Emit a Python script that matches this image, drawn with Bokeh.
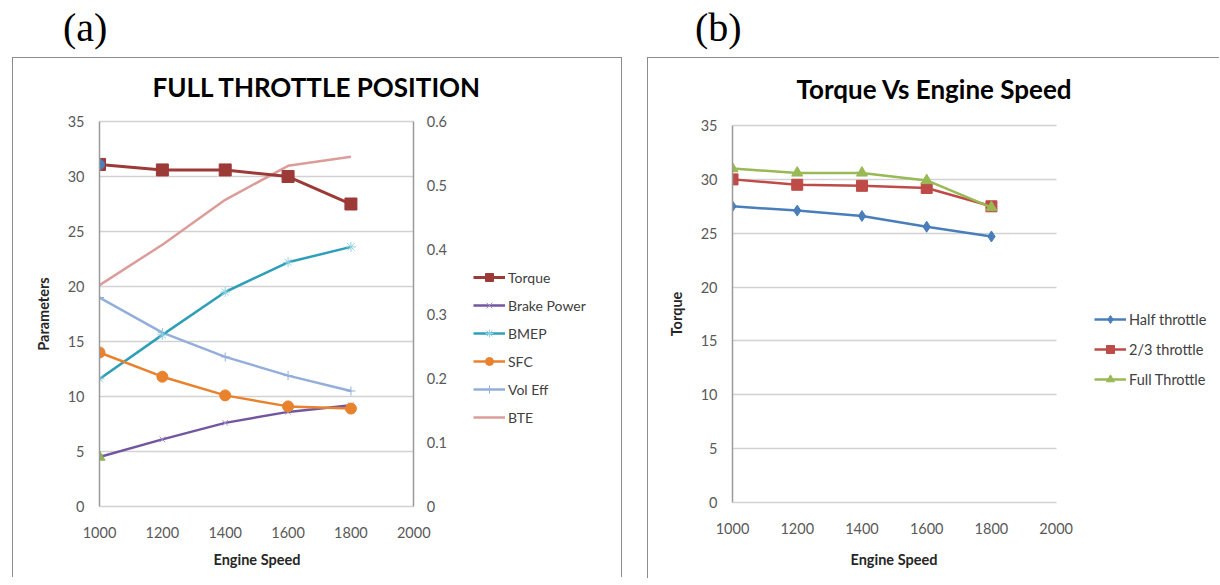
from bokeh.plotting import figure
from bokeh.models import (LinearAxis, Range1d, Legend, LegendItem, Div, Title,
                          FixedTicker, CustomJSTickFormatter)
from bokeh.layouts import row, column
from bokeh.embed import file_html
from bokeh.resources import INLINE

# ---------------- data ----------------
speed = [1000, 1200, 1400, 1600, 1800]
x_ticks = [1000, 1200, 1400, 1600, 1800, 2000]
y_ticks = [0, 5, 10, 15, 20, 25, 30, 35]
r_ticks = [0, 0.1, 0.2, 0.3, 0.4, 0.5, 0.6]

# panel (a) - full throttle position
torque = [31.1, 30.6, 30.6, 30.0, 27.5]
brake_power = [4.5, 6.1, 7.6, 8.6, 9.2]
bmep = [11.6, 15.6, 19.5, 22.2, 23.6]
sfc = [14.0, 11.8, 10.1, 9.1, 8.9]
vol_eff = [19.0, 15.8, 13.6, 11.9, 10.5]
bte = [0.345, 0.408, 0.478, 0.531, 0.545]
stray_x = [1000]
stray_blue_y = [31.1]
stray_green_y = [4.5]

# panel (b) - torque vs engine speed
half_throttle = [27.5, 27.1, 26.6, 25.6, 24.7]
two_third_throttle = [30.0, 29.5, 29.4, 29.2, 27.5]
full_throttle = [31.0, 30.6, 30.6, 29.9, 27.4]

FONT = "Lato"
BORDER = "1px solid #8c8c8c"
X0, X1 = 1000, 2000
Y0, Y1 = 0, 35
R0, R1 = 0, 0.6


def style_axis(ax):
    ax.axis_line_color = "#9a9a9a"
    ax.axis_line_width = 1.5
    ax.major_tick_line_color = None
    ax.minor_tick_line_color = None
    ax.major_tick_out = 0
    ax.major_tick_in = 0
    ax.minor_tick_out = 0
    ax.minor_tick_in = 0
    ax.major_label_text_font = FONT
    ax.major_label_text_font_size = "14.5px"
    ax.major_label_text_color = "#595959"
    ax.axis_label_text_font = FONT
    ax.axis_label_text_font_size = "14.5px"
    ax.axis_label_text_font_style = "bold"
    ax.axis_label_text_color = "#262626"


def base_fig(axis_w, axis_h, pad, fw, left, right, top, bottom, title, t_offset, t_standoff,
             tick_standoff, xlab_offset, xlab_standoff, border_right):
    # frame holds the legend area too; 1000..2000 spans axis_w px, 0..35 spans axis_h px
    x_end = X0 + (X1 - X0) * fw / axis_w
    ypad = (Y1 - Y0) * pad / axis_h
    styles = {"border-left": BORDER, "border-top": BORDER}
    if border_right:
        styles["border-right"] = BORDER
    p = figure(frame_width=fw, frame_height=axis_h + 2 * pad,
               min_border_left=left, min_border_right=right,
               min_border_top=top, min_border_bottom=bottom,
               x_range=Range1d(X0, x_end), y_range=Range1d(Y0 - ypad, Y1 + ypad),
               output_backend="svg", toolbar_location=None, styles=styles)
    p.title.text = title
    p.title.align = "left"
    p.title.offset = t_offset
    p.title.standoff = t_standoff
    p.title.text_font = FONT
    p.title.text_font_size = "26px"
    p.title.text_font_style = "bold"
    p.title.text_color = "#000000"
    p.outline_line_color = None
    p.xgrid.grid_line_color = None
    p.ygrid.grid_line_color = "#d2d2d2"
    p.ygrid.grid_line_width = 1.5
    p.ygrid.cross_bounds = (X0, X1)
    p.xaxis.ticker = FixedTicker(ticks=x_ticks)
    p.xaxis.bounds = (X0, X1)
    p.yaxis.ticker = FixedTicker(ticks=y_ticks)
    p.yaxis.bounds = (Y0, Y1)
    for ax in p.xaxis + p.yaxis:
        style_axis(ax)
    p.xaxis.axis_line_color = None  # the grid line at 0 acts as the axis line
    p.xaxis.major_label_standoff = tick_standoff
    p.yaxis.major_label_standoff = 15
    p.yaxis.axis_label_standoff = 13
    xlab = Title(text="Engine Speed", align="left", offset=xlab_offset, standoff=xlab_standoff,
                 text_font=FONT, text_font_size="14.5px", text_font_style="bold",
                 text_color="#262626")
    p.add_layout(xlab, "below")
    return p


# ---------------- panel (a) ----------------
PAD_A = 9
pa = base_fig(313, 384, PAD_A, 486, 86, 36, 63 - PAD_A, 72 - PAD_A,
              "FULL THROTTLE POSITION", 53, 19, 11, 114, 16, True)
pa.yaxis.axis_label = "Parameters"
rpad = (R1 - R0) * PAD_A / 384
pa.extra_y_ranges = {"r": Range1d(R0 - rpad, R1 + rpad)}
rax = LinearAxis(y_range_name="r", ticker=FixedTicker(ticks=r_ticks), fixed_location=X1,
                 bounds=(R0, R1),
                 formatter=CustomJSTickFormatter(code="return tick == 0 ? '0' : tick.toFixed(1);"))
style_axis(rax)
rax.major_label_standoff = 13
pa.add_layout(rax, "right")

c_torque = "#9b3a37"
c_bp = "#7356a0"
c_bmep = "#2f9fb8"
c_sfc = "#e8822e"
c_vol = "#93aedb"
c_bte = "#dc9c9a"

l_bte = pa.line(speed, bte, y_range_name="r", line_color=c_bte, line_width=2.5)
l_vol = pa.line(speed, vol_eff, line_color=c_vol, line_width=2.5)
m_vol = pa.scatter(speed, vol_eff, marker="cross", size=9, line_color=c_vol, line_width=1)
l_bp = pa.line(speed, brake_power, line_color=c_bp, line_width=2.5)
m_bp = pa.scatter(speed, brake_power, marker="x", size=8, line_color="#a692c6", line_width=1)
l_bmep = pa.line(speed, bmep, line_color=c_bmep, line_width=2.5)
m_bmep = pa.scatter(speed, bmep, marker="asterisk", size=10, line_color="#8fd0e0", line_width=1)
l_sfc = pa.line(speed, sfc, line_color=c_sfc, line_width=2.5)
m_sfc = pa.scatter(speed, sfc, marker="circle", size=11, fill_color=c_sfc, line_color=c_sfc)
l_tq = pa.line(speed, torque, line_color=c_torque, line_width=3)
m_tq = pa.scatter(speed, torque, marker="square", size=12, fill_color=c_torque, line_color=c_torque)
pa.scatter(stray_x, stray_blue_y, marker="circle", size=10, fill_color="#4a7ebb", line_color="#4a7ebb")
pa.scatter(stray_x, stray_green_y, marker="triangle", size=11, fill_color="#8db357", line_color="#8db357")

leg_a = Legend(items=[
    LegendItem(label="Torque", renderers=[l_tq, m_tq]),
    LegendItem(label="Brake Power", renderers=[l_bp, m_bp]),
    LegendItem(label="BMEP", renderers=[l_bmep, m_bmep]),
    LegendItem(label="SFC", renderers=[l_sfc, m_sfc]),
    LegendItem(label="Vol Eff", renderers=[l_vol, m_vol]),
    LegendItem(label="BTE", renderers=[l_bte]),
], location=(374, 79 + PAD_A))

# ---------------- panel (b) ----------------
PAD_B = 10
pb = base_fig(323, 376, PAD_B, 485, 84, 2, 67 - PAD_B, 76 - PAD_B,
              "Torque Vs Engine Speed", 64, 22, 10, 118, 24, False)
pb.yaxis.axis_label = "Torque"
c_half = "#4a7ebb"
c_two = "#be4b48"
c_full = "#98b954"
l_half = pb.line(speed, half_throttle, line_color=c_half, line_width=2.5)
m_half = pb.scatter(speed, half_throttle, marker="diamond", size=11, fill_color=c_half, line_color=c_half)
l_two = pb.line(speed, two_third_throttle, line_color=c_two, line_width=2.5)
m_two = pb.scatter(speed, two_third_throttle, marker="square", size=11, fill_color=c_two, line_color=c_two)
l_full = pb.line(speed, full_throttle, line_color=c_full, line_width=2.5)
m_full = pb.scatter(speed, full_throttle, marker="triangle", size=11, fill_color=c_full, line_color=c_full)

leg_b = Legend(items=[
    LegendItem(label="Half throttle", renderers=[l_half, m_half]),
    LegendItem(label="2/3 throttle", renderers=[l_two, m_two]),
    LegendItem(label="Full Throttle", renderers=[l_full, m_full]),
], location=(362, 113 + PAD_B))

for leg, sp, fs in ((leg_a, 8, "14px"), (leg_b, 10, "14.5px")):
    leg.glyph_width = 32
    leg.glyph_height = 20
    leg.spacing = sp
    leg.padding = 0
    leg.margin = 0
    leg.label_standoff = 3
    leg.border_line_color = None
    leg.background_fill_alpha = 0
    leg.label_text_font = FONT
    leg.label_text_font_size = fs
    leg.label_text_color = "#404040"
pa.add_layout(leg_a, "center")
pb.add_layout(leg_b, "center")

# ---------------- labels and layout ----------------
lab_style = {"font-family": "Liberation Serif", "font-size": "40px", "color": "#000",
             "line-height": "1"}
div_a = Div(text="(a)", width=100, height=49, styles=lab_style, margin=(8, 0, 0, 63))
div_b = Div(text="(b)", width=100, height=49, styles=lab_style, margin=(8, 0, 0, 73))
pa.margin = (0, 0, 0, 12)
pb.margin = (0, 0, 0, 25)
layout = row(column(div_a, pa), column(div_b, pb))

open("out.html", "w").write(file_html(layout, INLINE))
